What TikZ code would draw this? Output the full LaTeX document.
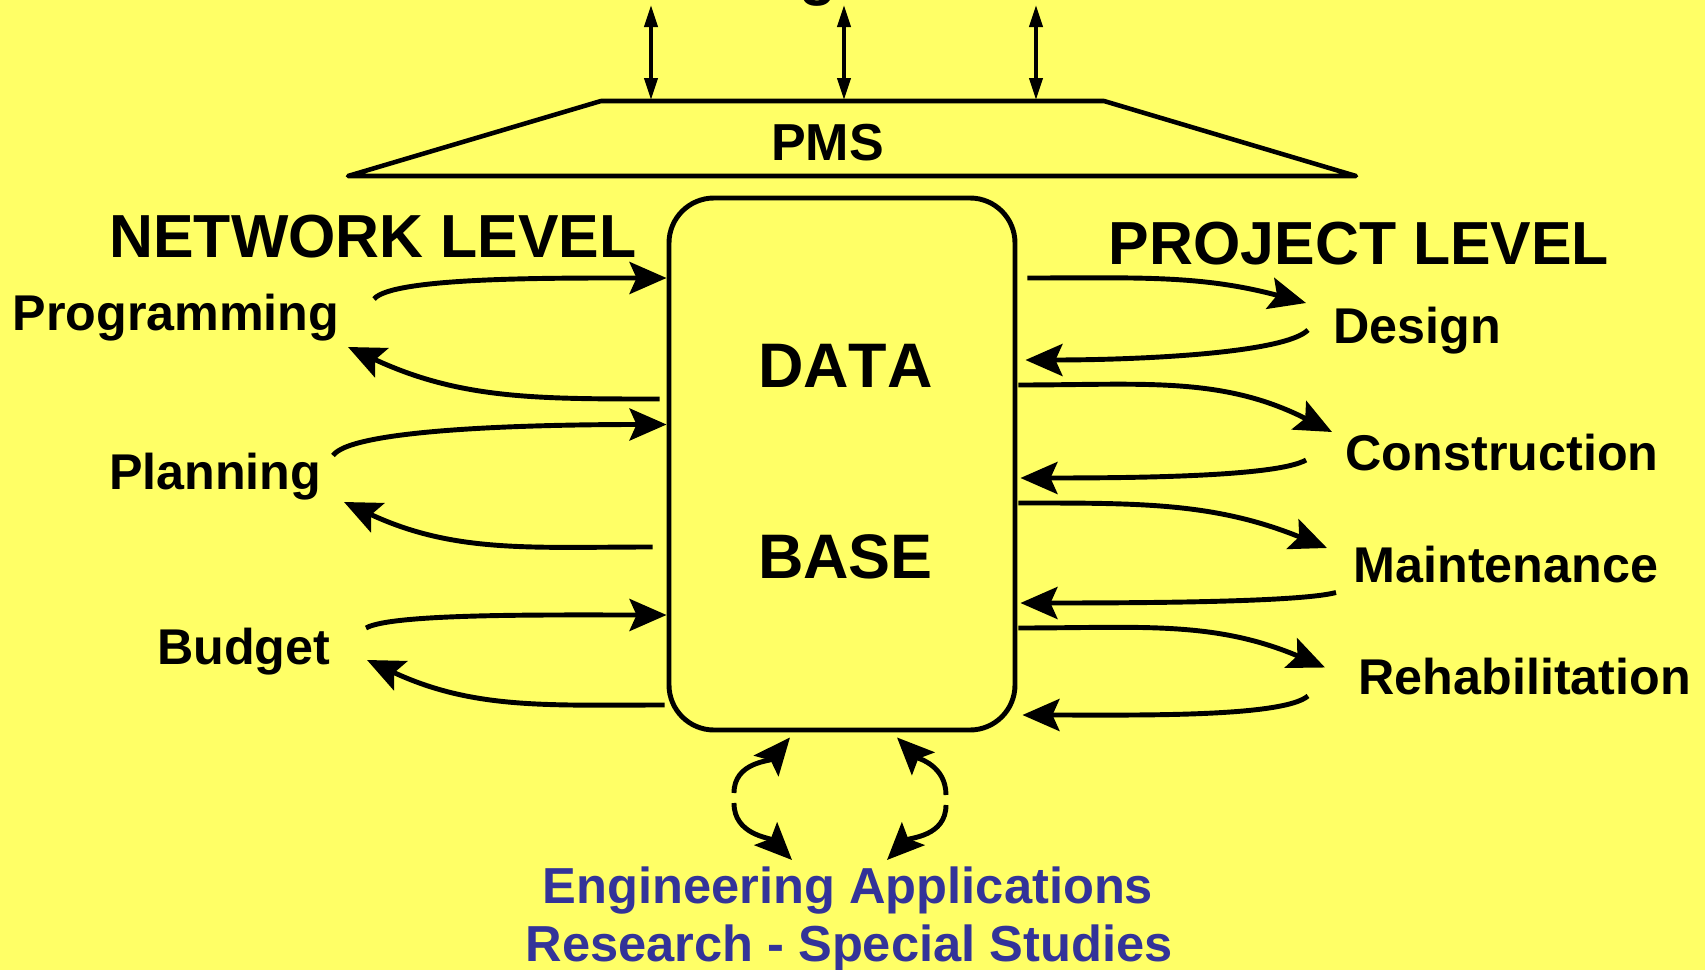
\documentclass[tikz,border=0pt]{standalone}
\usepackage{fontspec}
\setmainfont{Liberation Sans}
\usetikzlibrary{arrows.meta}
\definecolor{padyellow}{HTML}{FFFF66}
\definecolor{padblue}{HTML}{333399}

\begin{document}
\begin{tikzpicture}[
	flow/.style={line width=1.4pt,-{Stealth[length=0.37cm,width=0.32cm,inset=0.07cm]}},
	link/.style={line width=1.1pt,{Triangle[length=0.22cm,width=0.13cm]}-{Triangle[length=0.22cm,width=0.13cm]}},
	lbl/.style={inner sep=0pt,font=\fontsize{14.3pt}{16pt}\selectfont\bfseries},
	big/.style={inner sep=0pt,font=\fontsize{17.3pt}{20pt}\selectfont\bfseries},
	dbtext/.style={inner sep=0pt,font=\fontsize{17.9pt}{20pt}\selectfont\bfseries\addfontfeature{Kerning=Off}}]
	\fill[padyellow] (0,0) rectangle (17.05,-9.70);
	\useasboundingbox (0,0) rectangle (17.05,-9.70);

	\node[big,anchor=base] (cut) at (8.18,0.07) {g};	%cut off at the top
	\draw[line width=1.3pt,line join=round] (3.48,-1.76) -- (6.01,-1.01) -- (11.04,-1.01) -- (13.56,-1.76) -- cycle;
	\node[inner sep=0pt,font=\fontsize{14.8pt}{17pt}\selectfont\bfseries,anchor=base] (pms) at (8.275,-1.61) {PMS};
	\foreach \x [count=\i] in {6.51,8.44,10.36}{
		\coordinate (dn\i) at (\x,-1.00);
		\coordinate (up\i) at (\x,-0.05);
		\draw[link] (dn\i) -- (up\i);
	}

	\node[draw,line width=1.4pt,rounded corners=0.45cm,minimum width=3.46cm,minimum height=5.32cm] (db) at (8.42,-4.64) {};
	\node[dbtext,anchor=base] (data) at (8.455,-3.87) {DATA};
	\node[dbtext,anchor=base] (base) at (8.455,-5.785) {BASE};

	\node[big,anchor=base] (netlvl) at (3.73,-2.57) {NETWORK LEVEL};
	\node[big,anchor=base] (projlvl) at (13.59,-2.64) {PROJECT LEVEL};

	\node[lbl,anchor=base east] (prog) at (3.40,-3.30) {Programming};
	\node[lbl,anchor=base east] (plan) at (3.22,-4.89) {Planning};
	\node[lbl,anchor=base east] (budget) at (3.31,-6.64) {Budget};

	\node[lbl,anchor=base west] (design) at (13.33,-3.43) {Design};
	\node[lbl,anchor=base west] (constr) at (13.45,-4.70) {Construction};
	\node[lbl,anchor=base west] (maint) at (13.53,-5.82) {Maintenance};
	\node[lbl,anchor=base west] (rehab) at (13.58,-6.94) {Rehabilitation};

	\node[lbl,text=padblue,font=\fontsize{14.4pt}{16pt}\selectfont\bfseries,anchor=base] (ea) at (8.48,-9.03) {Engineering Applications};
	\node[lbl,text=padblue,font=\fontsize{14.4pt}{16pt}\selectfont\bfseries,anchor=base] (rs) at (8.49,-9.61) {Research - Special Studies};

	% network level
	\draw[flow] ([shift={(0.34,0.31)}]prog.base east) to[out=50,in=180,out looseness=0.25] ([shift={(0,1.86)}]db.west);
	\draw[flow] ([shift={(-0.07,0.65)}]db.west) to[out=180,in=-25] ([shift={(0.08,-0.17)}]prog.base east);
	\draw[flow] ([shift={(0.11,0.335)}]plan.base east) to[out=55,in=180,out looseness=0.25] ([shift={(0,0.395)}]db.west);
	\draw[flow] ([shift={(-0.14,-0.83)}]db.west) to[out=180,in=-25] ([shift={(0.22,-0.13)}]plan.base east);
	\draw[flow] ([shift={(0.35,0.36)}]budget.base east) to[out=30,in=180,out looseness=0.25] ([shift={(0,-1.51)}]db.west);
	\draw[flow] ([shift={(-0.02,-2.41)}]db.west) to[out=180,in=-25] ([shift={(0.36,0.04)}]budget.base east);

	% project level
	\draw[flow] ([shift={(0.10,1.86)}]db.east) to[out=0,in=165] ([shift={(-0.27,0.40)}]design.base west);
	\draw[flow] ([shift={(-0.25,0.13)}]design.base west) to[out=225,in=0,out looseness=0.3] ([shift={(0.08,1.04)}]db.east);
	\draw[flow] ([shift={(0.01,0.79)}]db.east) to[out=0,in=153] ([shift={(-0.13,0.38)}]constr.base west);
	\draw[flow] ([shift={(-0.39,0.10)}]constr.base west) to[out=210,in=0,out looseness=0.3] ([shift={(0.03,-0.14)}]db.east);
	\draw[flow] ([shift={(0.01,-0.39)}]db.east) to[out=0,in=158] ([shift={(-0.26,0.34)}]maint.base west);
	\draw[flow] ([shift={(-0.17,-0.105)}]maint.base west) to[out=195,in=0,out looseness=0.3] ([shift={(0.03,-1.39)}]db.east);
	\draw[flow] ([shift={(0.01,-1.64)}]db.east) to[out=0,in=157] ([shift={(-0.33,0.265)}]rehab.base west);
	\draw[flow] ([shift={(-0.50,-0.02)}]rehab.base west) to[out=220,in=0,out looseness=0.3] ([shift={(0.05,-2.51)}]db.east);

	% applications below
	\coordinate (lmid) at (7.34,-7.98);
	\coordinate (rmid) at (9.46,-8.00);
	\draw[flow] ([yshift=0.05cm]lmid) to[out=90,in=-130] ([shift={(-0.52,-0.05)}]db.south);
	\draw[flow] ([yshift=-0.05cm]lmid) to[out=-90,in=135] ([shift={(-0.56,0.43)}]ea.base);
	\draw[flow] ([yshift=0.05cm]rmid) to[out=90,in=-45] ([shift={(0.55,-0.05)}]db.south);
	\draw[flow] ([yshift=-0.05cm]rmid) to[out=-90,in=45] ([shift={(0.39,0.43)}]ea.base);
\end{tikzpicture}
\end{document}
